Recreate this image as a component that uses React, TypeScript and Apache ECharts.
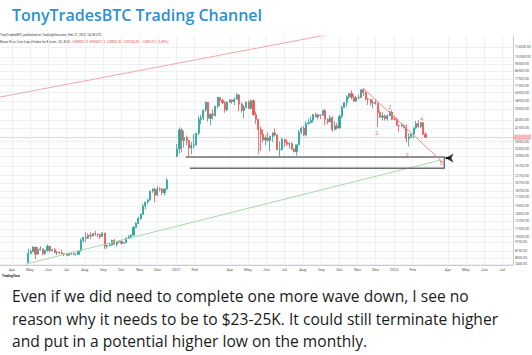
import React, { useEffect, useRef } from 'react';
import * as echarts from 'echarts';

// ---- Data ----
const STEP_DAYS = 4;
const SEG1_START = '2020-04-27';
const SEG1_OPEN = 7600;
const SEG1_CLOSE = [8500, 8700, 9200, 8400, 8900, 9000, 8500, 8800, 9300, 8800, 8900, 8600, 8600, 8550, 8450, 8400, 8300, 8450, 8500, 8400, 8400, 8750, 10000, 10400, 10300, 10700, 10600, 10900, 10850, 10750, 10500, 11000, 9300, 9350, 9450, 10000, 9550, 9800, 9900, 9650, 9700, 10300, 10500, 10700, 11800, 12400, 13200, 13900, 15500, 16300, 16700, 18700, 19150, 17750, 19200, 19150, 18300, 19200, 21500];
const SEG1_HIGH = [9000, 8900, 9300, 9200, 9200, 9300, 9000, 8900, 9500, 9300, 9000, 9100, 8800, 8700, 8900, 8500, 8500, 8600, 8650, 8550, 8450, 8800, 10300, 10500, 11100, 10900, 11100, 11000, 11300, 10900, 10800, 11100, 11000, 9500, 9700, 10100, 10200, 9850, 9950, 9950, 9800, 10450, 10700, 10800, 12000, 12600, 13500, 14100, 15950, 16300, 16900, 18800, 19400, 19500, 19900, 19600, 19400, 19400, 22000];
const SEG1_LOW = [7500, 8400, 8600, 7900, 8400, 8800, 8300, 8300, 8700, 8600, 8700, 8500, 8300, 8400, 8400, 8200, 8200, 8250, 8350, 8300, 8250, 8350, 8700, 9700, 9800, 10200, 10200, 10500, 10600, 10400, 10200, 10500, 9000, 9000, 9300, 9400, 9500, 9250, 9700, 9500, 9600, 9700, 10200, 10250, 10850, 11800, 12300, 13000, 13900, 14800, 15800, 16600, 18300, 16200, 17600, 18600, 17700, 17600, 19000];

const SEG2_START = '2021-01-01';
const SEG2_OPEN = 29000;
const SEG2_CLOSE = [31900, 40600, 35500, 36800, 35500, 32300, 33400, 33500, 38900, 46400, 47200, 52100, 57500, 47000, 49600, 48800, 54800, 61200, 58900, 57300, 52300, 57600, 59100, 58000, 59800, 63100, 56200, 51800, 54000, 57800, 53200, 58800, 49200, 46400, 40700, 38400, 35700, 36600, 35500, 37400, 39100, 38100, 31600, 31600, 36000, 34700, 33800, 34200, 31800, 30800, 33600, 39400, 41500, 38100, 43800, 44400, 45900, 49300, 47700, 49100, 48800, 51800, 46400, 44900, 47300, 40700, 42800, 41500, 48200, 53800, 57400, 61600, 64300, 61300, 58400, 61300, 61000, 67500, 64900, 60100, 59800, 57100, 57300, 56500, 50600, 47600, 48400, 46700, 48600, 50800, 46500, 46400, 43100, 42800, 43100, 41700, 36300, 37000, 38500, 41600, 44000, 42200, 44500, 38400, 37000];
const SEG2_HIGH = [34000, 41900, 41400, 40100, 37800, 35600, 34800, 38500, 38900, 48200, 49000, 52600, 58400, 57800, 49800, 52600, 54900, 61700, 61500, 60000, 58400, 58300, 60000, 59800, 61200, 64800, 63800, 57500, 55500, 57900, 58900, 59500, 59600, 51300, 46600, 42300, 40900, 37900, 39400, 37800, 39300, 41300, 38200, 35100, 36600, 36100, 35900, 34700, 34600, 32200, 33600, 40500, 42200, 42600, 45200, 46700, 48100, 49400, 50500, 49500, 49600, 51900, 52900, 47000, 48800, 48300, 45200, 44400, 49200, 55300, 57800, 62900, 64400, 67000, 63700, 62400, 63500, 67800, 69000, 66300, 61000, 59800, 59400, 59200, 57600, 51900, 50700, 49400, 49300, 51900, 52000, 48500, 47500, 43100, 44400, 43400, 43500, 38900, 38700, 41800, 45400, 45800, 44700, 44600, 39400];
const SEG2_LOW = [28700, 30000, 30500, 32400, 33400, 28900, 29800, 31900, 33400, 38000, 43700, 46000, 51000, 45000, 43000, 46300, 48000, 53200, 54600, 56200, 50400, 51400, 57000, 56500, 55500, 59400, 51500, 50600, 47000, 53300, 53100, 53000, 48600, 43800, 30000, 31100, 34700, 33400, 34800, 31000, 34800, 37400, 31300, 28800, 31300, 32700, 33200, 32100, 31600, 30500, 29300, 33500, 38300, 37500, 37400, 43800, 44200, 44400, 47600, 46400, 46600, 48400, 43000, 43500, 44800, 39600, 40600, 40800, 41400, 46900, 53700, 54200, 60000, 59600, 58100, 58000, 59500, 60800, 62300, 59000, 55700, 55300, 53300, 56000, 42000, 47300, 45700, 45600, 45600, 48100, 45900, 45700, 42500, 39700, 41900, 41400, 34600, 32900, 36600, 36300, 41100, 41800, 41600, 38000, 36800];

const CURRENT_PRICE = 37020.35;

// Axes
const X_MIN = '2020-03-12';
const X_MAX = '2022-07-19';
const Y_MIN = 7332;
const Y_MAX = 133252;
const X_TICKS = ['2020-04-01', '2020-05-01', '2020-06-01', '2020-07-01', '2020-08-01', '2020-09-01', '2020-10-01', '2020-11-01', '2020-12-01', '2021-01-01', '2021-02-01', '2021-04-01', '2021-05-01', '2021-06-01', '2021-07-01', '2021-08-01', '2021-09-01', '2021-10-01', '2021-11-01', '2021-12-01', '2022-01-01', '2022-02-01', '2022-04-01', '2022-05-01', '2022-06-01', '2022-07-01'];
const MONTH_NAMES = ['Jan', 'Feb', 'Mar', 'Apr', 'May', 'Jun', 'Jul', 'Aug', 'Sep', 'Oct', 'Nov', 'Dec'];
const Y_TICKS = [7400, 8000, 8750, 9750, 10500, 11500, 12750, 14000, 15500, 17250, 18750, 20750, 22750, 25750, 29000, 32000, 35000, 41500, 46000, 53000, 58500, 65000, 71000, 77500, 85500, 93500, 102000, 116000];

// Drawings (date, price)
const PINK_TREND = [['2020-03-12', 61500], ['2021-09-27', 138500]];
const GREEN_TREND = [['2020-04-23', 7400], ['2022-03-20', 27700]];
const SUPPORT_BOX = [['2021-01-17', 28800], ['2022-03-26', 28800], ['2022-03-26', 25000], ['2021-01-24', 25000]];
const RED_TREND = [['2021-11-10', 69000], ['2022-03-24', 26800]];
const WAVE_LABELS = [['2021-12-03', 39000, '1'], ['2021-12-25', 54200, '2'], ['2022-01-23', 29500, '3'], ['2022-02-16', 46500, '4'], ['2022-03-21', 26600, '5']];
const ARROW_POINT = ['2022-03-28', 28400];
const ARROW_STEM = [['2022-03-28', 28400], ['2022-04-05', 28400]];

const TITLE = 'TonyTradesBTC Trading Channel';
const BODY_LINES = [
  'Even if we did need to complete one more wave down, I see no',
  'reason why it needs to be to $23-25K. It could still terminate higher',
  'and put in a potential higher low on the monthly.',
];

const DAY = 86400000;
const ts = (s: string) => new Date(s + 'T00:00:00').getTime();

function buildCandles(start: string, open0: number, close: number[], high: number[], low: number[]) {
  const out: number[][] = [];
  let open = open0;
  const t0 = ts(start);
  for (let i = 0; i < close.length; i++) {
    const t = t0 + (i * STEP_DAYS + 1.5) * DAY;
    out.push([t, open, close[i], low[i], high[i]]);
    open = close[i];
  }
  return out;
}

const toPts = (arr: any[]) => arr.map((p) => [ts(p[0]), p[1]]);

export default function App() {
  const ref = useRef<HTMLDivElement>(null);
  useEffect(() => {
    if (!ref.current) return;
    const chart = echarts.init(ref.current, undefined, { renderer: 'svg' });
    const candles = [
      ...buildCandles(SEG1_START, SEG1_OPEN, SEG1_CLOSE, SEG1_HIGH, SEG1_LOW),
      ...buildCandles(SEG2_START, SEG2_OPEN, SEG2_CLOSE, SEG2_HIGH, SEG2_LOW),
    ];
    const lineBase = { type: 'line', symbol: 'none', silent: true, clip: true, animation: false };
    const xTickVals = X_TICKS.map(ts);
    chart.setOption({
      animation: false,
      backgroundColor: '#ffffff',
      grid: { left: 0, right: 19, top: 36, bottom: 90, outerBoundsMode: 'none', containLabel: false },
      xAxis: {
        type: 'value',
        min: ts(X_MIN),
        max: ts(X_MAX),
        axisLine: { show: true, lineStyle: { color: '#c9ccd3' } },
        axisTick: { show: false, customValues: xTickVals },
        axisLabel: {
          customValues: xTickVals,
          fontSize: 4,
          color: '#555',
          margin: 2,
          fontFamily: 'Roboto, sans-serif',
          formatter: (v: number) => {
            const d = new Date(v);
            return d.getMonth() === 0 ? String(d.getFullYear()) : MONTH_NAMES[d.getMonth()];
          },
        },
        splitLine: { show: true, lineStyle: { color: '#edf1f6', width: 1 } },
      },
      yAxis: {
        type: 'log',
        position: 'right',
        min: Y_MIN,
        max: Y_MAX,
        axisLine: { show: true, lineStyle: { color: '#c9ccd3' } },
        axisTick: { show: false, customValues: Y_TICKS },
        axisLabel: {
          customValues: Y_TICKS,
          fontSize: 3.3,
          color: '#555',
          margin: 2,
          fontFamily: 'Roboto, sans-serif',
          formatter: (v: number) => Number(v).toFixed(2),
        },
        splitLine: { show: true, lineStyle: { color: '#edf1f6', width: 1 } },
      },
      series: [
        {
          ...lineBase,
          data: toPts(PINK_TREND),
          lineStyle: { color: '#f2a5ac', width: 1 },
          z: 1,
        },
        {
          type: 'candlestick',
          data: candles,
          barWidth: 1.6,
          itemStyle: {
            color: '#26a69a',
            color0: '#ef5350',
            borderColor: '#26a69a',
            borderColor0: '#ef5350',
            borderWidth: 0.8,
          },
          markLine: {
            silent: true,
            symbol: 'none',
            data: [{ yAxis: CURRENT_PRICE }],
            lineStyle: { color: '#ef5350', type: 'dotted', width: 1, opacity: 0.45 },
            label: {
              position: 'end',
              distance: 1,
              formatter: CURRENT_PRICE.toFixed(2),
              backgroundColor: '#ef5350',
              color: '#fff',
              fontSize: 3.3,
              fontFamily: 'Roboto, sans-serif',
              padding: [1, 1.5],
            },
          },
          z: 2,
        },
        {
          ...lineBase,
          data: toPts(GREEN_TREND),
          lineStyle: { color: '#a8d8a8', width: 1 },
          z: 3,
        },
        {
          ...lineBase,
          data: toPts(SUPPORT_BOX),
          lineStyle: { color: '#6f6f6f', width: 1.5 },
          z: 4,
        },
        {
          ...lineBase,
          data: toPts(RED_TREND),
          lineStyle: { color: '#f08a8a', width: 1 },
          z: 4,
        },
        {
          ...lineBase,
          data: toPts(ARROW_STEM),
          lineStyle: { color: '#111', width: 2 },
          z: 5,
        },
        {
          type: 'scatter',
          silent: true,
          data: [[ts(ARROW_POINT[0] as string), ARROW_POINT[1]]],
          symbol: 'arrow',
          symbolSize: [7, 8],
          symbolRotate: 90,
          itemStyle: { color: '#111' },
          z: 6,
        },
        {
          type: 'scatter',
          silent: true,
          data: WAVE_LABELS.map((w) => [ts(w[0] as string), w[1], w[2]]),
          symbolSize: 1,
          itemStyle: { color: 'rgba(0,0,0,0)' },
          label: {
            show: true,
            position: 'inside',
            formatter: (p: any) => p.value[2],
            color: '#e04848',
            fontSize: 6,
          },
          z: 6,
        },
      ],
      graphic: [
        {
          type: 'text',
          left: 12,
          top: 7,
          style: {
            text: TITLE,
            fill: '#2d8fd5',
            fontSize: 16,
            fontWeight: 600,
            fontFamily: '"Open Sans", sans-serif',
          },
        },
        {
          type: 'text',
          x: 0,
          y: 35,
          style: {
            text: 'TonyTradesBTC published on TradingView.com, Feb 21, 2022 14:18 UTC',
            fill: '#333',
            fontSize: 3.2,
            fontFamily: 'Roboto, sans-serif',
            verticalAlign: 'middle',
          },
        },
        {
          type: 'text',
          x: 0,
          y: 41.5,
          style: {
            text: '{a|Brave New Coin Liquid Index for Bitcoin, 1D, BNC  }{r|O38359.82  H39457.11  L36812.40  C37020.35  \u22121339.47 (\u22123.49%)}',
            fontSize: 3.2,
            fontFamily: 'Roboto, sans-serif',
            verticalAlign: 'middle',
            rich: {
              a: { fill: '#333', fontSize: 3.2 },
              r: { fill: '#e53935', fontSize: 3.2 },
            },
          },
        },
        {
          type: 'text',
          x: 2,
          y: 276,
          style: {
            text: 'TradingView',
            fill: '#222',
            fontSize: 3.2,
            fontWeight: 'bold',
            fontFamily: 'Roboto, sans-serif',
            verticalAlign: 'middle',
          },
        },
        ...BODY_LINES.map((line, i) => ({
          type: 'text',
          x: 12,
          y: 296 + i * 22.5,
          style: {
            text: line,
            fill: '#1b1b1b',
            fontSize: 15.6,
            fontFamily: '"Open Sans", sans-serif',
            verticalAlign: 'middle',
          },
        })),
      ],
    });
    return () => chart.dispose();
  }, []);
  return (
    <div
      ref={ref}
      style={{ position: 'absolute', left: 0, top: 0, width: 532, height: 355, background: '#fff' }}
    />
  );
}
